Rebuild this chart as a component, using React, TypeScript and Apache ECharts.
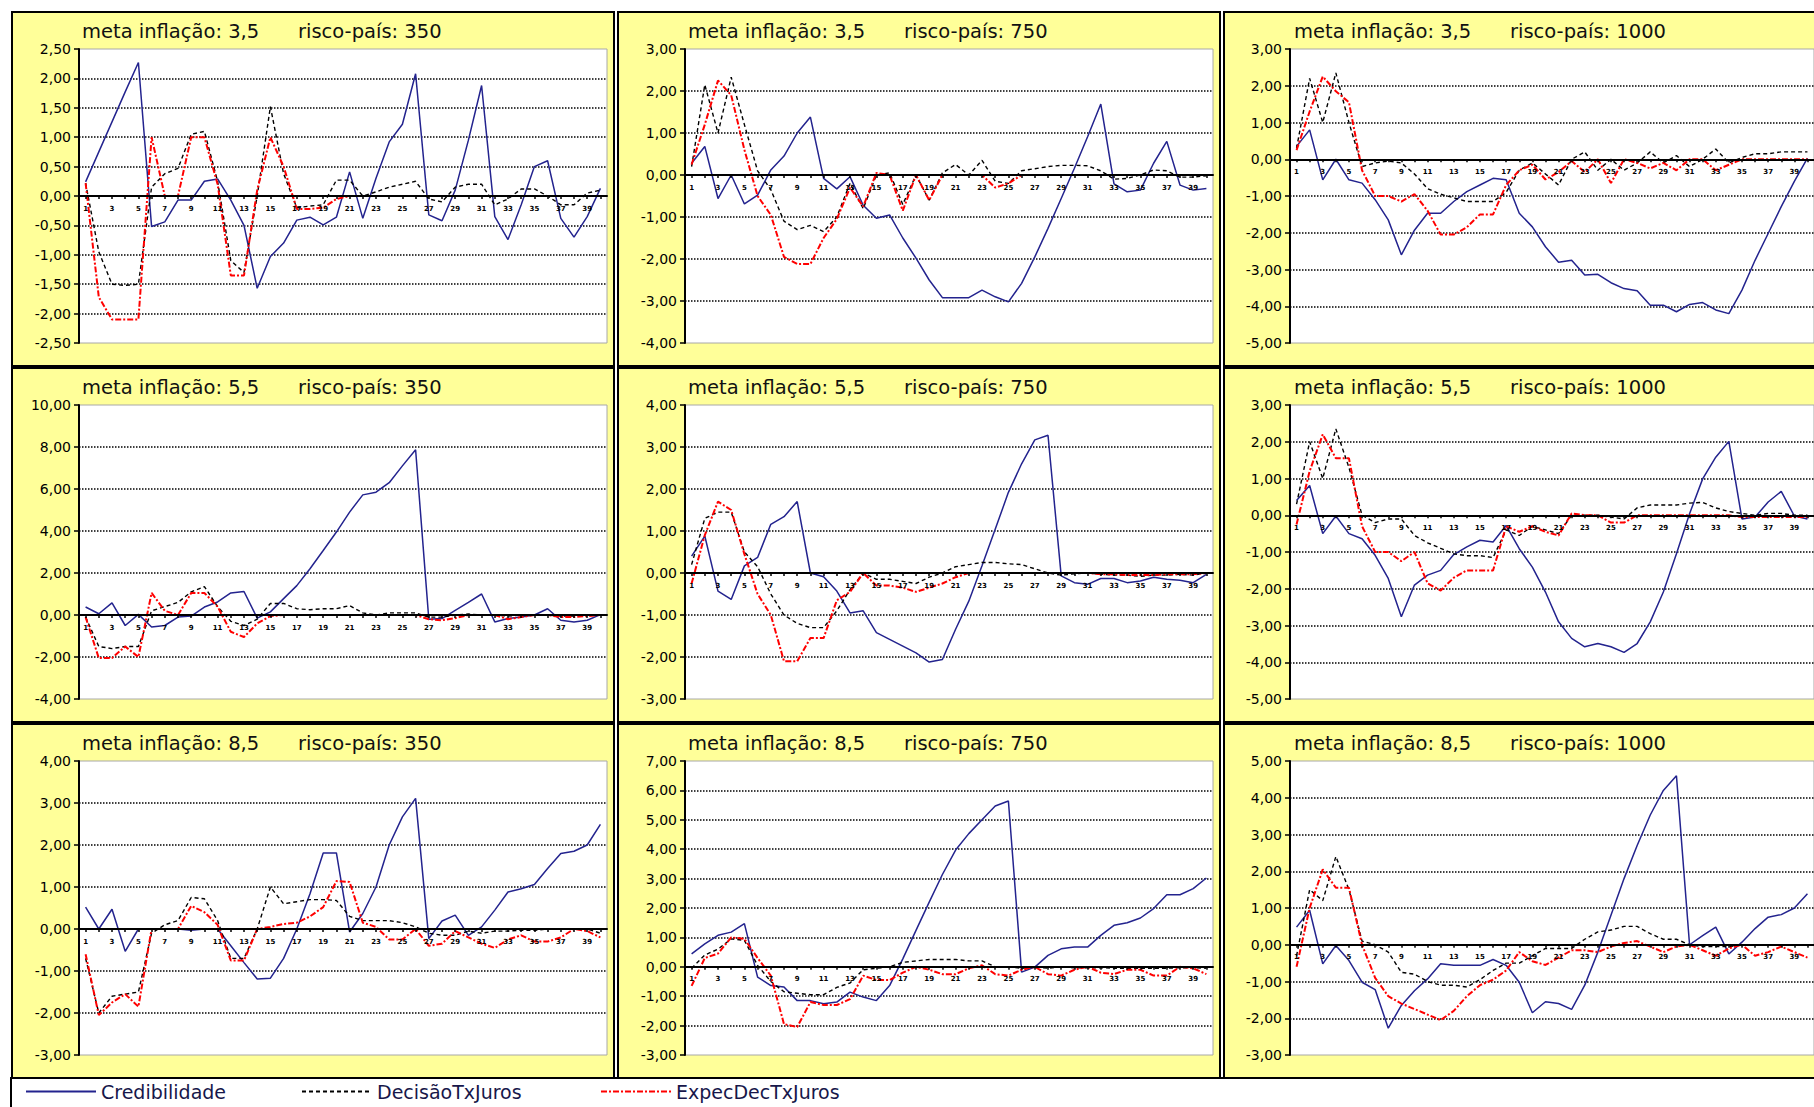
import React, { useEffect, useRef } from "react";
import * as echarts from "echarts";

// ---------- data ----------
const CATEGORIES = ["1","2","3","4","5","6","7","8","9","10","11","12","13","14","15","16","17","18","19","20","21","22","23","24","25","26","27","28","29","30","31","32","33","34","35","36","37","38","39","40"];

const SERIES_NAMES = ["Credibilidade", "DecisãoTxJuros", "ExpecDecTxJuros"];
const META_LABELS = ["3,5", "5,5", "8,5"];
const RISCO_LABELS = ["350", "750", "1000"];

// y axis ranges per panel (row-major)
const Y_MIN = [-2.5, -4, -5, -4, -3, -5, -3, -3, -3];
const Y_MAX = [2.5, 3, 3, 10, 4, 3, 4, 7, 5];
const Y_INTERVAL = [0.5, 1, 1, 2, 1, 1, 1, 1, 1];

// meta 3,5 / risco 350
const CRED_35_350 = [0.24, 0.75, 1.26, 1.77, 2.27, -0.52, -0.44, -0.07, -0.07, 0.25, 0.29, -0.07, -0.5, -1.57, -1.03, -0.8, -0.41, -0.36, -0.49, -0.36, 0.41, -0.38, 0.3, 0.92, 1.22, 2.08, -0.32, -0.42, 0.1, 0.95, 1.88, -0.35, -0.74, -0.15, 0.5, 0.6, -0.38, -0.7, -0.35, 0.13];
const DEC_35_350 = [0.22, -0.95, -1.5, -1.52, -1.5, 0.15, 0.38, 0.47, 1.05, 1.1, 0.25, -1.1, -1.3, 0.0, 1.52, 0.38, -0.2, -0.17, -0.15, 0.27, 0.27, 0.0, 0.07, 0.15, 0.2, 0.25, -0.05, -0.1, 0.15, 0.2, 0.2, -0.15, -0.05, 0.12, 0.12, 0.0, -0.15, -0.15, 0.05, 0.1];
const EXP_35_350 = [0.22, -1.72, -2.1, -2.1, -2.1, 1.0, 0.0, 0.0, 1.0, 1.0, 0.2, -1.35, -1.35, 0.1, 1.0, 0.5, -0.22, -0.22, -0.2, -0.05, 0, 0, 0, 0, 0, 0, 0, 0, 0, 0, 0, 0, 0, 0, 0, 0, 0, 0, 0, 0];

// meta 3,5 / risco 750
const CRED_35_750 = [0.28, 0.68, -0.56, 0.0, -0.69, -0.48, 0.12, 0.45, 1.0, 1.38, -0.08, -0.33, -0.04, -0.72, -1.03, -0.95, -1.5, -1.98, -2.5, -2.92, -2.92, -2.92, -2.74, -2.9, -3.02, -2.58, -1.95, -1.27, -0.56, 0.16, 0.91, 1.69, -0.21, -0.4, -0.36, 0.28, 0.8, -0.24, -0.36, -0.32];
const DEC_35_750 = [0.2, 2.15, 1.0, 2.33, 1.2, 0.1, -0.35, -1.1, -1.3, -1.2, -1.35, -1.0, -0.2, -0.8, 0.0, 0.05, -0.7, 0.0, -0.6, 0.05, 0.25, 0.0, 0.35, -0.15, -0.2, 0.1, 0.15, 0.2, 0.23, 0.23, 0.22, 0.1, -0.1, -0.08, 0.0, 0.12, 0.1, -0.05, -0.05, -0.02];
const EXP_35_750 = [0.25, 1.2, 2.25, 1.9, 0.6, -0.5, -0.95, -1.95, -2.12, -2.12, -1.5, -1.05, -0.3, -0.75, 0.05, 0.0, -0.85, 0.0, -0.6, 0.0, 0, 0, 0, -0.3, -0.2, 0, 0, 0, 0, 0, 0, 0, 0, 0, 0, 0, 0, 0, 0, 0];

// meta 3,5 / risco 1000
const CRED_35_1000 = [0.35, 0.8, -0.56, 0.0, -0.56, -0.65, -1.1, -1.65, -2.6, -1.93, -1.47, -1.47, -1.15, -0.88, -0.7, -0.52, -0.56, -1.47, -1.84, -2.38, -2.8, -2.75, -3.15, -3.13, -3.36, -3.52, -3.58, -3.97, -3.97, -4.15, -3.95, -3.9, -4.1, -4.2, -3.56, -2.75, -2.02, -1.29, -0.6, 0.03];
const DEC_35_1000 = [0.3, 2.2, 1.0, 2.35, 1.0, -0.2, -0.1, -0.05, -0.1, -0.4, -0.8, -0.95, -1.05, -1.15, -1.15, -1.15, -0.9, -0.3, -0.1, -0.4, -0.7, 0.0, 0.2, -0.3, 0.0, -0.3, -0.1, 0.2, -0.1, 0.1, -0.2, 0.0, 0.28, -0.1, 0.05, 0.15, 0.15, 0.2, 0.2, 0.2];
const EXP_35_1000 = [0.25, 1.3, 2.25, 1.85, 1.55, -0.3, -1.0, -1.0, -1.15, -0.95, -1.4, -2.05, -2.05, -1.85, -1.5, -1.5, -0.7, -0.3, -0.15, -0.55, -0.35, -0.05, -0.35, 0.0, -0.65, 0.0, -0.1, -0.25, -0.1, -0.3, 0.0, 0.0, -0.3, -0.15, 0.0, 0, 0, 0, 0, 0];

// meta 5,5 / risco 350
const CRED_55_350 = [0.38, 0.06, 0.58, -0.5, 0.03, -0.57, -0.5, -0.1, -0.05, 0.38, 0.62, 1.05, 1.12, -0.15, 0.15, 0.78, 1.4, 2.2, 3.07, 3.95, 4.9, 5.72, 5.85, 6.3, 7.1, 7.87, -0.2, -0.17, 0.22, 0.6, 1.0, -0.33, -0.17, -0.1, 0.0, 0.3, -0.25, -0.33, -0.25, 0.02];
const DEC_55_350 = [-0.1, -1.5, -1.6, -1.5, -1.5, 0.2, 0.4, 0.6, 1.1, 1.35, 0.4, -0.3, -0.5, -0.2, 0.55, 0.55, 0.3, 0.25, 0.3, 0.3, 0.45, 0.1, 0.0, 0.1, 0.1, 0.1, -0.1, -0.1, 0.0, 0.05, 0.0, 0.0, -0.05, 0.0, 0.0, 0.0, -0.05, -0.05, 0.0, 0.0];
const EXP_55_350 = [-0.1, -2.05, -2.05, -1.5, -2.0, 1.05, 0.2, 0.0, 1.05, 1.05, 0.4, -0.8, -1.05, -0.4, -0.05, 0, 0, 0, 0, 0, 0, 0, 0, 0, 0, 0, -0.2, -0.25, -0.15, 0, 0, 0, -0.2, -0.1, 0, 0, -0.1, -0.1, -0.05, 0];

// meta 5,5 / risco 750
const CRED_55_750 = [0.4, 0.88, -0.43, -0.63, 0.17, 0.37, 1.16, 1.34, 1.7, 0.0, -0.09, -0.43, -0.95, -0.9, -1.42, -1.58, -1.74, -1.9, -2.12, -2.06, -1.34, -0.67, 0.17, 1.04, 1.92, 2.6, 3.17, 3.28, -0.07, -0.23, -0.27, -0.13, -0.13, -0.23, -0.19, -0.1, -0.15, -0.17, -0.23, -0.03];
const DEC_55_750 = [0.2, 1.3, 1.45, 1.45, 0.5, 0.15, -0.5, -1.0, -1.2, -1.3, -1.3, -0.9, -0.4, 0.0, -0.15, -0.15, -0.2, -0.25, -0.1, 0.0, 0.15, 0.2, 0.25, 0.25, 0.22, 0.2, 0.1, 0.0, -0.05, -0.02, 0.0, -0.03, -0.05, -0.05, -0.08, -0.05, -0.05, -0.03, -0.05, 0.0];
const EXP_55_750 = [-0.25, 0.9, 1.7, 1.5, 0.45, -0.5, -1.0, -2.1, -2.1, -1.55, -1.55, -0.65, -0.45, 0.0, -0.3, -0.3, -0.35, -0.45, -0.35, -0.25, -0.1, 0.0, 0, 0, 0, 0, 0, 0, 0, 0, 0, -0.03, -0.03, -0.05, -0.05, -0.05, -0.03, -0.03, -0.03, 0.0];

// meta 5,5 / risco 1000
const CRED_55_1000 = [0.4, 0.81, -0.5, -0.02, -0.5, -0.64, -1.09, -1.72, -2.76, -1.9, -1.63, -1.5, -1.07, -0.86, -0.68, -0.73, -0.28, -0.91, -1.41, -2.09, -2.9, -3.35, -3.58, -3.49, -3.58, -3.73, -3.49, -2.9, -2.09, -1.05, 0.04, 0.99, 1.58, 2.01, -0.1, -0.05, 0.36, 0.65, -0.02, -0.1];
const DEC_55_1000 = [0.3, 2.0, 1.0, 2.35, 1.3, 0.0, -0.2, -0.1, -0.1, -0.55, -0.75, -0.9, -1.05, -1.1, -1.1, -1.15, -0.4, -0.55, -0.3, -0.4, -0.5, 0.0, 0.0, 0.0, -0.05, -0.1, 0.2, 0.28, 0.28, 0.28, 0.33, 0.35, 0.2, 0.1, 0.05, 0.0, 0.05, 0.05, 0.0, 0.0];
const EXP_55_1000 = [-0.25, 1.2, 2.2, 1.55, 1.55, -0.3, -1.0, -1.0, -1.25, -1.0, -1.85, -2.05, -1.7, -1.5, -1.5, -1.5, -0.3, -0.45, -0.3, -0.45, -0.55, 0.05, 0.0, 0.0, -0.2, -0.2, 0.0, 0, 0, 0, 0, 0, 0, 0, -0.05, -0.05, -0.05, -0.05, -0.05, -0.05];

// meta 8,5 / risco 350
const CRED_85_350 = [0.52, 0.0, 0.47, -0.53, 0.0, 0.0, 0.0, 0.0, -0.03, 0.0, 0.0, -0.4, -0.8, -1.19, -1.17, -0.7, 0.0, 0.84, 1.81, 1.81, -0.07, 0.37, 1.0, 2.0, 2.67, 3.11, -0.23, 0.19, 0.33, -0.15, 0.05, 0.45, 0.88, 0.96, 1.06, 1.44, 1.8, 1.85, 2.0, 2.49];
const DEC_85_350 = [-0.7, -2.0, -1.6, -1.55, -1.5, -0.1, 0.1, 0.2, 0.75, 0.72, 0.2, -0.7, -0.7, 0.0, 1.0, 0.6, 0.65, 0.7, 0.7, 0.68, 0.3, 0.2, 0.2, 0.2, 0.15, 0.05, -0.1, -0.15, -0.15, -0.05, -0.1, -0.05, -0.05, -0.03, -0.03, 0.0, 0.0, 0.0, 0.0, -0.1];
const EXP_85_350 = [-0.6, -2.05, -1.75, -1.55, -1.85, 0.0, 0.0, 0.0, 0.55, 0.4, 0.1, -0.75, -0.75, 0.0, 0.05, 0.12, 0.15, 0.3, 0.52, 1.14, 1.12, 0.15, 0.05, -0.25, -0.25, 0.0, -0.4, -0.35, -0.05, -0.2, -0.35, -0.45, -0.25, -0.15, -0.3, -0.3, -0.2, 0.0, -0.05, -0.2];

// meta 8,5 / risco 750
const CRED_85_750 = [0.44, 0.78, 1.07, 1.18, 1.47, -0.35, -0.64, -0.69, -1.15, -1.15, -1.26, -1.2, -0.86, -1.03, -1.15, -0.64, 0.27, 1.24, 2.2, 3.14, 3.97, 4.53, 5.0, 5.47, 5.64, -0.18, -0.01, 0.39, 0.61, 0.67, 0.67, 1.07, 1.41, 1.5, 1.66, 1.98, 2.45, 2.45, 2.66, 3.02];
const DEC_85_750 = [-0.05, 0.4, 0.6, 0.95, 0.9, 0.05, -0.5, -0.85, -0.9, -0.95, -0.95, -0.7, -0.55, -0.1, -0.05, 0.0, 0.15, 0.2, 0.25, 0.25, 0.25, 0.2, 0.2, 0.0, 0.0, -0.05, 0.0, -0.05, 0.0, -0.03, -0.03, -0.03, -0.05, -0.05, -0.05, -0.05, -0.05, -0.03, -0.03, -0.05];
const EXP_85_750 = [-0.65, 0.3, 0.45, 1.0, 0.95, 0.3, -0.3, -1.95, -2.05, -1.2, -1.3, -1.3, -1.1, -0.3, -0.45, -0.45, -0.2, 0.0, -0.1, -0.25, -0.25, -0.05, 0.05, -0.25, -0.3, -0.1, 0.0, -0.25, -0.3, -0.1, 0.0, -0.2, -0.25, -0.1, -0.1, -0.3, -0.3, 0.0, -0.05, -0.25];

// meta 8,5 / risco 1000
const CRED_85_1000 = [0.48, 0.94, -0.52, -0.02, -0.43, -1.02, -1.22, -2.27, -1.65, -1.25, -0.93, -0.52, -0.56, -0.56, -0.56, -0.4, -0.56, -1.02, -1.85, -1.55, -1.6, -1.76, -1.1, -0.2, 0.8, 1.8, 2.7, 3.53, 4.2, 4.6, 0.0, 0.25, 0.48, -0.25, 0.07, 0.44, 0.75, 0.82, 1.0, 1.39];
const DEC_85_1000 = [-0.3, 1.5, 1.2, 2.4, 1.5, 0.1, 0.0, -0.2, -0.75, -0.8, -1.0, -1.1, -1.1, -1.15, -0.95, -0.7, -0.5, -0.5, -0.3, -0.1, -0.1, -0.1, 0.15, 0.35, 0.4, 0.5, 0.5, 0.3, 0.15, 0.15, 0.0, -0.05, -0.05, -0.05, 0.0, 0.0, 0.0, 0.0, 0.0, 0.0];
const EXP_85_1000 = [-0.6, 1.0, 2.05, 1.55, 1.55, 0.0, -0.9, -1.4, -1.6, -1.75, -1.9, -2.05, -1.8, -1.4, -1.1, -0.95, -0.7, -0.2, -0.45, -0.55, -0.35, -0.15, -0.15, -0.2, -0.05, 0.05, 0.1, -0.05, -0.2, -0.05, 0.0, -0.15, -0.3, -0.1, 0.0, -0.3, -0.2, -0.05, -0.2, -0.35];

const PANEL_DATA = [
  [CRED_35_350, DEC_35_350, EXP_35_350],
  [CRED_35_750, DEC_35_750, EXP_35_750],
  [CRED_35_1000, DEC_35_1000, EXP_35_1000],
  [CRED_55_350, DEC_55_350, EXP_55_350],
  [CRED_55_750, DEC_55_750, EXP_55_750],
  [CRED_55_1000, DEC_55_1000, EXP_55_1000],
  [CRED_85_350, DEC_85_350, EXP_85_350],
  [CRED_85_750, DEC_85_750, EXP_85_750],
  [CRED_85_1000, DEC_85_1000, EXP_85_1000],
];

// ---------- layout / style ----------
const W = 1814;
const H = 1107;
const BOX_LEFT = [12, 618, 1224];
const BOX_TOP = [12, 368, 724];
const BOX_W = 602;
const BOX_H = 354;
const GRID_LEFT = [79, 685, 1290];
const GRID_W = 528;
const GRID_TOP_OFF = 37;
const GRID_H = 294;
const FONT = "DejaVu Sans";

const LINE_STYLES = [
  { color: "#23238e", width: 1.5, type: "solid" },
  { color: "#000000", width: 1.4, type: [4, 3] },
  { color: "#ff0000", width: 2, type: [6, 2, 2, 2] },
];

const fmt = (v: number) => v.toFixed(2).replace(".", ",");

export default function App() {
  const ref = useRef<HTMLDivElement>(null);

  useEffect(() => {
    if (!ref.current) return;
    const chart = echarts.init(ref.current, null, { renderer: "svg" });

    const grids: any[] = [];
    const xAxes: any[] = [];
    const yAxes: any[] = [];
    const series: any[] = [];
    const graphics: any[] = [];

    for (let row = 0; row < 3; row++) {
      for (let col = 0; col < 3; col++) {
        const p = row * 3 + col;
        graphics.push({
          type: "rect",
          z: -10,
          shape: { x: BOX_LEFT[col], y: BOX_TOP[row], width: BOX_W, height: BOX_H },
          style: { fill: "#ffff99", stroke: "#000", lineWidth: 2 },
        });
        graphics.push({
          type: "text",
          z: 10,
          x: BOX_LEFT[col] + 70,
          y: BOX_TOP[row] + 19,
          style: {
            text: "meta inflação: " + META_LABELS[row],
            fill: "#111",
            fontSize: 19.5,
            fontFamily: FONT,
            verticalAlign: "middle",
          },
        });
        graphics.push({
          type: "text",
          z: 10,
          x: BOX_LEFT[col] + 286,
          y: BOX_TOP[row] + 19,
          style: {
            text: "risco-país: " + RISCO_LABELS[col],
            fill: "#111",
            fontSize: 19.5,
            fontFamily: FONT,
            verticalAlign: "middle",
          },
        });

        grids.push({
          left: GRID_LEFT[col],
          top: BOX_TOP[row] + GRID_TOP_OFF,
          width: GRID_W,
          height: GRID_H,
          show: true,
          backgroundColor: "#ffffff",
          borderColor: "#a8a8a8",
          borderWidth: 1,
        });
        // x axis sits on the zero line of the value axis
        const zeroOffset = -((0 - Y_MIN[p]) / (Y_MAX[p] - Y_MIN[p])) * GRID_H;
        xAxes.push({
          type: "category",
          gridIndex: p,
          position: "bottom",
          offset: zeroOffset,
          data: CATEGORIES,
          boundaryGap: true,
          axisLine: { onZero: false, lineStyle: { color: "#000", width: 2 } },
          axisTick: { show: true, alignWithLabel: true, interval: 0, length: 3, lineStyle: { color: "#000", width: 1.5 } },
          axisLabel: { interval: 1, fontSize: 7, fontWeight: "bold", color: "#000", margin: 9, fontFamily: FONT },
          splitLine: { show: false },
          z: 6,
        });
        yAxes.push({
          type: "value",
          gridIndex: p,
          min: Y_MIN[p],
          max: Y_MAX[p],
          interval: Y_INTERVAL[p],
          axisLine: { show: true, onZero: false, lineStyle: { color: "#000", width: 2 } },
          axisTick: { show: true, length: 5, lineStyle: { color: "#000", width: 1.5 } },
          axisLabel: { fontSize: 14, color: "#000", fontFamily: FONT, margin: 8, formatter: fmt },
          splitLine: { show: true, showMinLine: false, showMaxLine: false, lineStyle: { color: "#000", width: 1.5, type: [1.5, 1.5] } },
        });
        for (let s = 0; s < 3; s++) {
          series.push({
            type: "line",
            name: SERIES_NAMES[s],
            xAxisIndex: p,
            yAxisIndex: p,
            data: PANEL_DATA[p][s],
            symbol: "none",
            showSymbol: false,
            lineStyle: LINE_STYLES[s],
            itemStyle: { color: LINE_STYLES[s].color },
            z: 3 + s,
          });
        }
      }
    }

    // legend box
    graphics.push({
      type: "rect",
      z: -10,
      shape: { x: 11, y: 1078, width: 1900, height: 80 },
      style: { fill: "#ffffff", stroke: "#000", lineWidth: 2 },
    });

    const legendLefts = [25, 301, 600];
    const legends = SERIES_NAMES.map((name, i) => ({
      data: [name],
      left: legendLefts[i],
      top: 1082,
      padding: 0,
      itemWidth: 70,
      itemHeight: 14,
      selectedMode: false,
      itemStyle: { opacity: 0 },
      textStyle: { fontSize: 19, color: "#17174a", fontFamily: FONT },
    }));

    chart.setOption({
      animation: false,
      backgroundColor: "#ffffff",
      graphic: graphics,
      legend: legends,
      grid: grids,
      xAxis: xAxes,
      yAxis: yAxes,
      series,
    });

    return () => chart.dispose();
  }, []);

  return (
    <div
      ref={ref}
      style={{ position: "fixed", left: 0, top: 0, width: W, height: H, overflow: "hidden" }}
    />
  );
}
